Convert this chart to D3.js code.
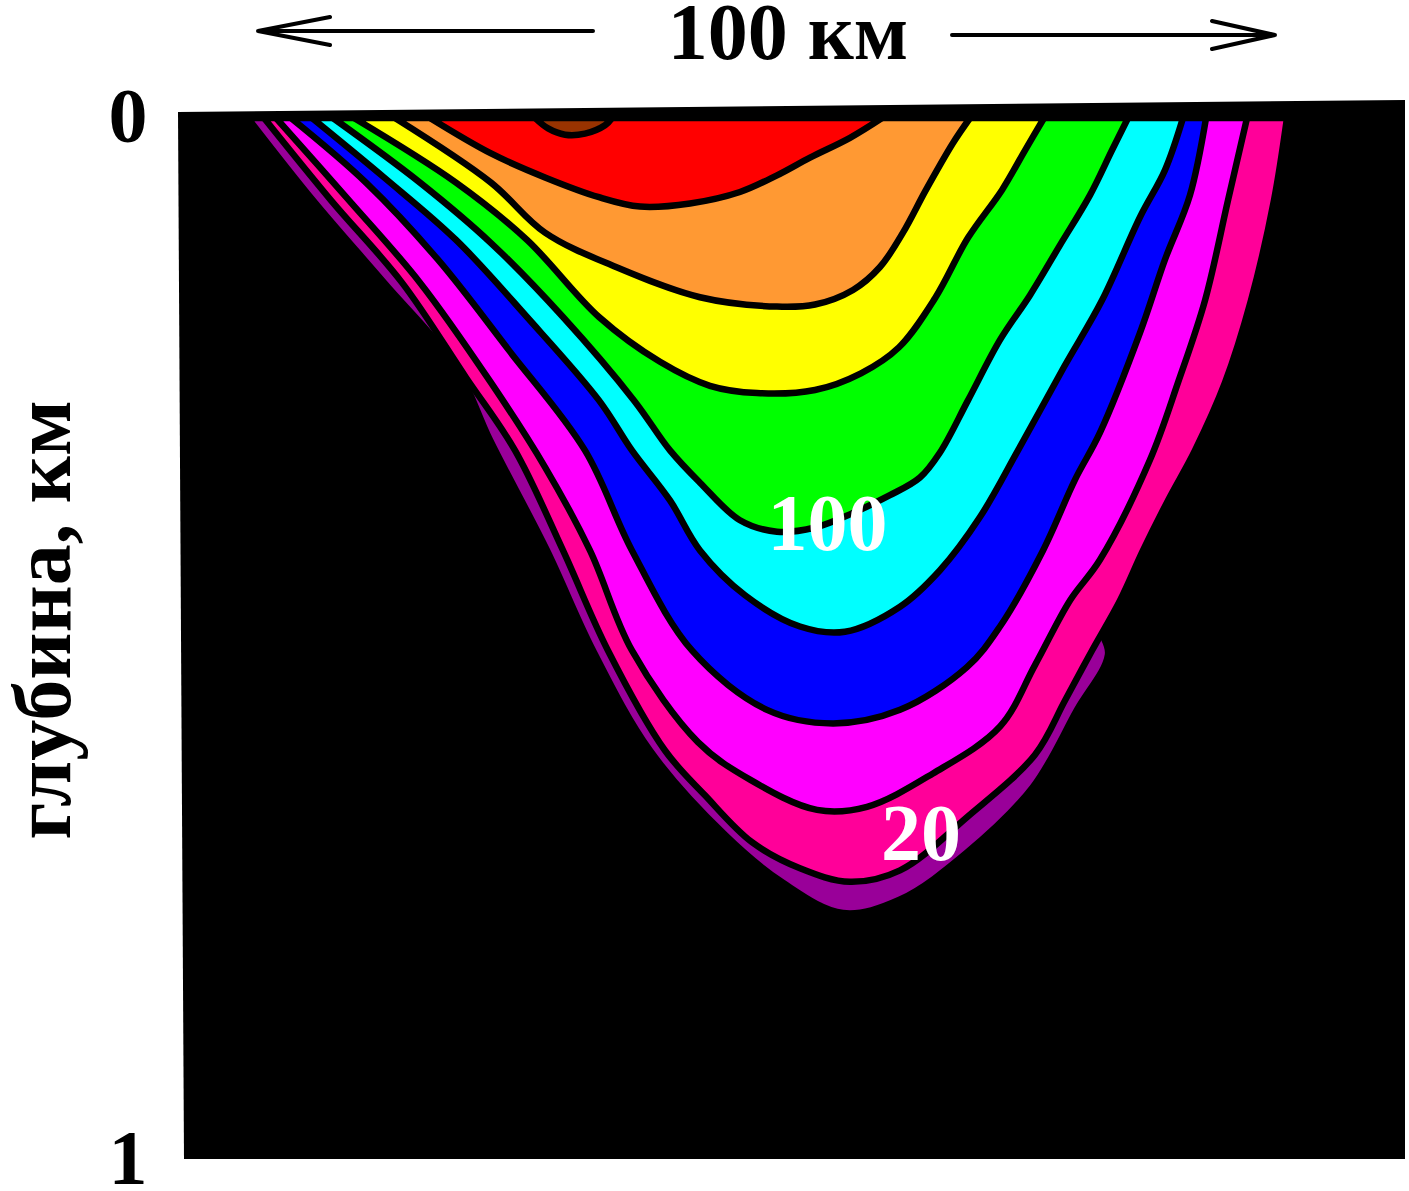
<!DOCTYPE html>
<html>
<head>
<meta charset="utf-8">
<script src="https://cdn.jsdelivr.net/npm/d3@7"></script>
<style>
    body { margin: 0; background: #fff; }
    svg { display: block; }
    text { font-family: "Liberation Serif", "Times New Roman", serif; font-weight: bold; }
</style>
</head>
<body>
<svg id="chart" width="1409" height="1191"></svg>
<script>
/*
    Разрез: изолинии по глубине (км) вдоль профиля 100 км.
*/

// уровни изолиний, от внешней к внутренней
var levels = [10, 20, 40, 60, 80, 100, 120, 140, 160, 180];
var bandColors = ["#990099", "#ff0099", "#ff00ff", "#0000ff", "#00ffff",
                  "#00ff00", "#ffff00", "#ff9933", "#ff0000", "#993300"];

// точки изолиний: [расстояние, км ; глубина, км]
var c10 = [[-1.0, 0], [5.41, 0.079], [12.39, 0.158], [19.47, 0.239], [22.81, 0.309],
           [28.42, 0.415], [32.94, 0.511], [38.54, 0.607], [45.92, 0.688], [51.62, 0.734],
           [57.52, 0.763], [63.13, 0.750], [69.71, 0.705], [76.20, 0.642], [80.53, 0.568],
           [83.58, 0.515], [82.79, 0.482], [91.64, 0.290], [99.31, 0]];
var c20 = [[0.59, 0], [7.18, 0.079], [14.16, 0.158], [20.45, 0.249], [25.27, 0.319],
           [29.99, 0.415], [34.41, 0.511], [40.02, 0.607], [43.95, 0.650], [48.57, 0.695],
           [53.29, 0.720], [58.21, 0.733], [63.13, 0.722], [69.71, 0.671], [76.40, 0.611],
           [79.35, 0.559], [82.01, 0.511], [84.76, 0.463], [87.02, 0.415], [89.48, 0.367],
           [92.13, 0.319], [95.08, 0.254], [97.64, 0.175], [99.90, 0.079], [101.18, 0]];
var c40 = [[1.77, 0], [8.95, 0.079], [15.93, 0.158], [22.91, 0.254], [28.22, 0.335],
           [32.64, 0.415], [36.77, 0.511], [43.26, 0.599], [48.38, 0.635], [54.97, 0.664],
           [59.88, 0.661], [66.37, 0.629], [72.96, 0.584], [76.40, 0.525], [79.84, 0.463],
           [82.79, 0.424], [87.71, 0.328], [90.46, 0.254], [93.12, 0.175], [95.38, 0.079],
           [97.25, 0]];
var c60 = [[3.24, 0], [10.62, 0.062], [17.70, 0.136], [24.68, 0.223], [32.15, 0.319],
           [36.77, 0.415], [42.67, 0.511], [50.05, 0.568], [56.54, 0.581], [63.13, 0.568],
           [69.71, 0.527], [72.96, 0.488], [77.19, 0.415], [80.34, 0.347], [82.79, 0.302],
           [86.73, 0.206], [89.18, 0.136], [91.64, 0.074], [93.22, 0]];
var c80 = [[5.31, 0], [12.39, 0.057], [19.47, 0.117], [26.45, 0.191], [33.53, 0.271],
           [36.77, 0.319], [40.51, 0.367], [43.46, 0.415], [47.89, 0.458], [53.29, 0.488],
           [57.72, 0.493], [63.13, 0.469], [67.06, 0.434], [70.99, 0.383], [74.73, 0.319],
           [79.25, 0.239], [82.99, 0.175], [86.73, 0.095], [89.18, 0.050], [90.95, 0]];
var c100 = [[7.37, 0], [15.93, 0.062], [22.91, 0.120], [29.99, 0.191], [36.97, 0.271],
            [40.51, 0.319], [43.46, 0.350], [47.39, 0.386], [51.03, 0.397], [54.77, 0.393],
            [58.51, 0.379], [62.14, 0.362], [65.09, 0.345], [67.06, 0.321], [69.81, 0.271],
            [72.96, 0.213], [75.91, 0.170], [78.86, 0.122], [81.81, 0.074], [83.97, 0.031],
            [85.55, 0]];
var c120 = [[9.44, 0], [19.47, 0.062], [26.45, 0.117], [33.53, 0.191], [39.53, 0.234],
            [44.44, 0.257], [49.07, 0.264], [54.77, 0.261], [59.29, 0.245], [63.03, 0.220],
            [66.57, 0.173], [69.81, 0.115], [73.16, 0.069], [75.42, 0.031], [77.29, 0]];
var c140 = [[13.47, 0], [22.91, 0.062], [28.22, 0.110], [35.20, 0.143], [43.46, 0.172],
            [51.03, 0.181], [54.77, 0.179], [58.51, 0.165], [61.16, 0.143], [63.42, 0.110],
            [65.68, 0.069], [68.34, 0.024], [70.01, 0]];
var c160 = [[16.91, 0], [22.91, 0.034], [28.22, 0.057], [33.53, 0.076], [37.56, 0.085],
            [42.48, 0.082], [47.39, 0.071], [51.03, 0.055], [54.28, 0.038], [58.21, 0.019],
            [61.36, 0]];
var c180 = [[27.24, 0], [28.52, 0.010], [30.19, 0.016], [32.15, 0.015], [34.12, 0.007],
            [34.81, 0]];

var contours = [c10, c20, c40, c60, c80, c100, c120, c140, c160, c180];

// подписи изолиний
var labelText = ["100", "20"];
var labelKm = [56.0, 65.2];
var labelDepth = [0.415, 0.712];

var depthTicks = [0, 1];
var distanceKm = 100;

var svg = d3.select("#chart");

var x = d3.scaleLinear().domain([0, distanceKm]).range([258, 1275]);
var y = d3.scaleLinear().domain([0, 1]).range([118, 1160]);

// чёрное поле разреза (скан немного перекошен)
var frame = [[178, 112], [1405, 100], [1405, 1159], [184, 1159]];
svg.append("polygon")
    .attr("points", frame.map(function(p) { return p.join(","); }).join(" "))
    .attr("fill", "#000");

var line = d3.line()
    .x(function(d) { return x(d[0]); })
    .y(function(d) { return y(d[1]); })
    .curve(d3.curveCatmullRom.alpha(0.5));

var bands = svg.append("g").attr("class", "bands");
bands.selectAll("path")
    .data(levels)
    .enter().append("path")
        .attr("d", function(d, i) { return line(contours[i]) + "Z"; })
        .attr("fill", function(d, i) { return bandColors[i]; })
        .attr("stroke", "#000")
        .attr("stroke-width", 6.5)
        .attr("stroke-linejoin", "round");

svg.append("g").selectAll("text")
    .data(labelText)
    .enter().append("text")
        .attr("x", function(d, i) { return x(labelKm[i]); })
        .attr("y", function(d, i) { return y(labelDepth[i]); })
        .attr("text-anchor", "middle")
        .attr("font-size", 80)
        .attr("fill", "#fff")
        .text(function(d) { return d; });

// ось глубины
svg.append("g").selectAll("text")
    .data(depthTicks)
    .enter().append("text")
        .attr("x", 128)
        .attr("y", function(d) { return y(d) + 24; })
        .attr("text-anchor", "middle")
        .attr("font-size", 78)
        .text(function(d) { return d; });

svg.append("text")
    .attr("transform", "translate(70, 620) rotate(-90)")
    .attr("text-anchor", "middle")
    .attr("font-size", 82)
    .text("глубина, км");

// масштабная стрелка 100 км
var arrows = svg.append("g")
    .attr("fill", "none")
    .attr("stroke", "#000")
    .attr("stroke-width", 4)
    .attr("stroke-linecap", "round");

arrows.append("path")
    .attr("d", "M" + x(0) + ",31 L593,31 M" + (x(0) + 72) + ",17 L" + x(0) + ",31 L" + (x(0) + 72) + ",45");
arrows.append("path")
    .attr("d", "M952,35 L" + x(distanceKm) + ",35 M" + (x(distanceKm) - 63) + ",21 L" + x(distanceKm) + ",35 L" + (x(distanceKm) - 63) + ",49");

svg.append("text")
    .attr("x", 788)
    .attr("y", 59)
    .attr("text-anchor", "middle")
    .attr("font-size", 80)
    .text(distanceKm + " км");
</script>
</body>
</html>
